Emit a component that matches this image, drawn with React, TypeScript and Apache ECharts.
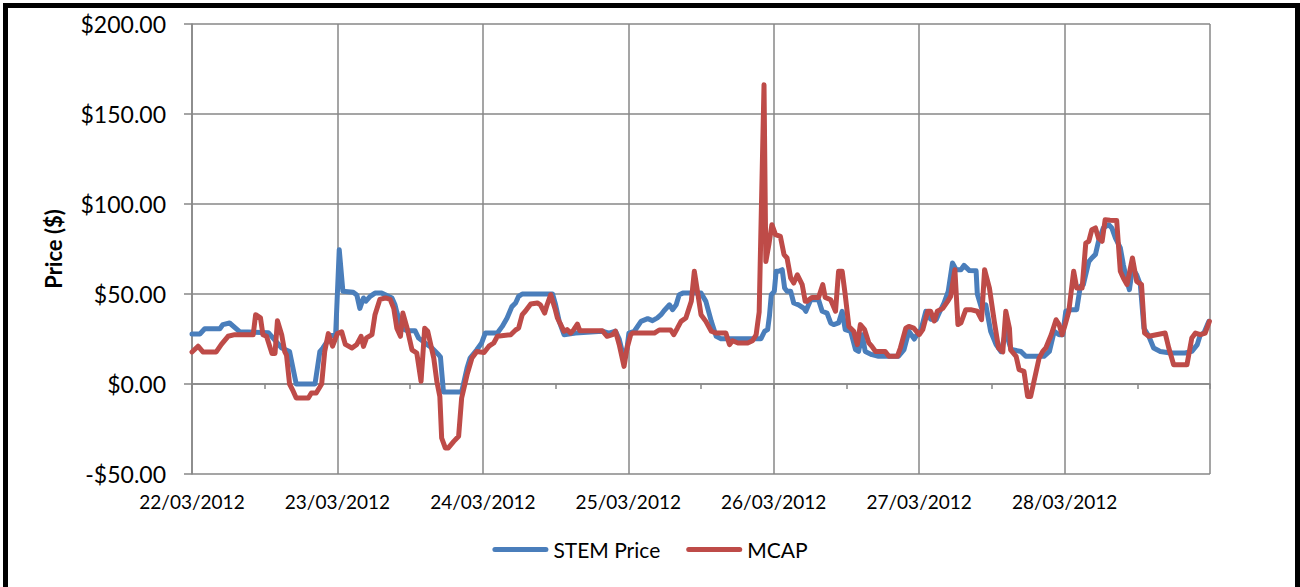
import React, { useEffect, useRef } from "react";
import * as echarts from "echarts";

const dateLabels = ["22/03/2012", "23/03/2012", "24/03/2012", "25/03/2012", "26/03/2012", "27/03/2012", "28/03/2012"];
const yTicks = [-50, 0, 50, 100, 150, 200];

// [hours since 22/03/2012 00:00, price $]
const stemPrice: [number, number][] = [
  [0, 27.8], [1.3, 27.8], [2.1, 30.7], [4.6, 30.7], [5.1, 33], [6.2, 33.9], [7.9, 29], [12.6, 28.5], [14.8, 20], [16.1, 18], [17.2, 0], [20.3, 0], [21.1, 18], [21.6, 20], [23.0, 27], [23.7, 27], [24.3, 74.6], [24.9, 51.5], [26.6, 51], [27.2, 49.5], [27.7, 42], [28.3, 47.8], [28.7, 46], [29.4, 48.7], [30.2, 50.5], [31.3, 50.5], [31.9, 49.6], [33.0, 47.8], [33.5, 44], [33.8, 40], [34.6, 31], [35.5, 29.6], [36.8, 29.6], [37.4, 25.5], [38.8, 22], [39.6, 20], [40.7, 16.3], [41.0, 15], [41.5, -4.5], [44.5, -4.5], [45.4, 9], [45.9, 14.4], [47.0, 19], [47.8, 22.8],
  [48.4, 28.3], [50.4, 28.3], [51.2, 32], [52.0, 36.7], [52.8, 43], [53.4, 45], [53.9, 48.7], [54.5, 50], [59.5, 50], [60.0, 44], [60.6, 34.8], [61.4, 27.4], [63.3, 28.3], [67.7, 29.3], [68.8, 28.3], [69.9, 29.3], [70.5, 25], [71.0, 18], [71.3, 15], [71.8, 20], [72.1, 28.3], [73.0, 29.3], [74.1, 34.8], [75.2, 36.3], [76.0, 35.2], [76.8, 36.7], [77.4, 38.5], [77.9, 40.7], [78.8, 44], [79.3, 41.3], [79.9, 44], [80.4, 49.6], [81.0, 50.5], [84.0, 50.5], [84.8, 45.9], [85.7, 34.8], [86.5, 26.5], [87.3, 25.2], [93.9, 25.2], [94.5, 29.3], [95.0, 30.2], [95.3, 38], [95.6, 49.6],
  [96.1, 51.5], [96.4, 62.6], [96.8, 62.6], [97.4, 63.5], [97.8, 53.3], [98.2, 51.5], [98.8, 51.5], [99.3, 45], [100.1, 44], [101.0, 42], [101.3, 40.4], [102.1, 46.8], [103.4, 46.8], [104.0, 40.4], [104.8, 39.4], [105.4, 33.9], [105.9, 33], [106.7, 33.9], [107.3, 40.4], [107.8, 30.2], [108.7, 29.3], [109.5, 19.1], [110.0, 18.1], [110.6, 27.4], [111.1, 18.1], [112.2, 16.3], [113.3, 15.4], [116.6, 15.4], [117.5, 19.1], [118.3, 29.3], [119.2, 25], [120.0, 29.3],
  [120.3, 30], [121.1, 40.4], [121.9, 36], [122.8, 35.7], [123.3, 39.4], [124.1, 45], [124.8, 51.5], [125.5, 67.2], [126.1, 63.5], [126.9, 63.5], [127.4, 65.9], [128.3, 63], [129.4, 62.9], [129.6, 50], [130.3, 42], [131.0, 44], [131.8, 29.3], [132.7, 21.9], [133.5, 18], [134.3, 29], [135.1, 20], [135.4, 19], [136.8, 18.1], [137.6, 15.4], [140.6, 15.4], [141.5, 18.1], [142.3, 29.3], [143.1, 27.4], [143.7, 27.4],
  [144.2, 40.4], [145.2, 41.3], [146.0, 41.3], [146.6, 54.3], [147.1, 55.2], [148.0, 68], [148.5, 70], [149.1, 72], [149.6, 79.3], [150.4, 86.7], [151.3, 88.5], [151.8, 86.7], [152.4, 81], [153.2, 75.6], [153.7, 66.3], [154.3, 57], [154.7, 52.4], [155.2, 64.4], [155.9, 60.7], [156.5, 55.2], [157.1, 31], [157.9, 26.5], [158.7, 20], [159.8, 18.1], [161.5, 17.2], [163.9, 17.2], [165.0, 18.1], [165.9, 21.9], [166.4, 27.4], [167.0, 28.3], [167.8, 34.8],
];

const mcap: [number, number][] = [
  [0, 17.8], [1.0, 21], [1.8, 17.8], [4.0, 17.8], [4.85, 22], [5.95, 26.5], [7.05, 27.4], [10.1, 27.4], [10.5, 38.5], [11.3, 36.7], [11.7, 27.4], [12.3, 26.5], [13.2, 17], [13.7, 17], [14.1, 35.2], [14.8, 27.4], [15.3, 18], [15.6, 16], [16.1, 0], [16.7, -4], [17.2, -7.8], [19.2, -7.8], [19.7, -5], [20.5, -5], [21.4, 0], [21.9, 18], [22.5, 28], [23.2, 21],
  [24.0, 28], [24.7, 29], [25.3, 22], [26.4, 20], [27.2, 22], [27.9, 26.5], [28.3, 20.9], [28.8, 25.6], [29.7, 27.4], [30.2, 38.5], [31.0, 47], [31.9, 47.8], [32.7, 47], [33.3, 42], [33.8, 31], [34.4, 26.5], [34.8, 39.4], [35.5, 31], [36.3, 19], [37.1, 17.2], [37.8, 1.5], [38.4, 31], [38.9, 29.3], [39.9, 14.4], [40.4, 1.5], [40.9, -6.9], [41.2, -30], [41.8, -35.5], [42.3, -35.5], [43.2, -31.9], [44.0, -29], [44.5, -7.8], [45.4, 5.2], [46.2, 14.4], [47.0, 18.1],
  [48.2, 17.5], [49.0, 21], [49.8, 22.8], [50.4, 26.5], [52.6, 27.4], [53.4, 30], [53.9, 31], [54.5, 38.5], [55.0, 40.4], [55.9, 44.4], [57.0, 45], [57.5, 44], [58.2, 39.4], [58.6, 44], [59.2, 49.6], [59.9, 42], [60.3, 36.7], [61.4, 29.3], [61.9, 30.2], [62.5, 28.3], [63.0, 30.2], [63.6, 33.3], [64.0, 29.6], [67.7, 29.6], [68.5, 26.5], [69.4, 27.4], [69.9, 29.3], [70.5, 21.9], [71.3, 9.8], [71.8, 20],
  [72.4, 27.4], [72.7, 28.3], [76.3, 28.3], [77.1, 30], [79.0, 30], [79.5, 27.4], [80.1, 31], [80.7, 34.8], [81.5, 36.7], [82.4, 46], [82.9, 62.6], [83.5, 49.6], [84.0, 38.5], [84.8, 34.8], [85.7, 29.3], [86.5, 28.3], [88.1, 28.3], [88.7, 21.9], [89.2, 24], [90.1, 22.8], [91.7, 22.8], [92.5, 24], [93.1, 27.4], [93.6, 40], [94.4, 166.3], [94.7, 68], [95.2, 77.4], [95.7, 88.5],
  [96.3, 83], [97.1, 82], [97.7, 71.9], [98.2, 70], [98.8, 58.9], [99.3, 56.1], [99.9, 60.7], [100.7, 55.2], [101.2, 46], [101.5, 46], [102.3, 48.1], [103.4, 48.1], [104.1, 55.2], [104.5, 48.1], [105.4, 46.8], [106.2, 40.4], [106.7, 62.6], [107.3, 62.6], [107.8, 49.6], [108.4, 32], [109.2, 29.3], [109.8, 21.9], [110.3, 33], [111.0, 30.2], [111.7, 22.8], [112.2, 20.9], [112.8, 18.1], [114.4, 18.1], [115.0, 15.4], [116.4, 15.4], [116.9, 20], [117.8, 31], [118.3, 32], [119.1, 31], [120.0, 27.4],
  [120.6, 30.2], [121.4, 40.4], [121.9, 40.4], [122.5, 35], [123.0, 40.4], [123.9, 42], [124.7, 45.9], [125.2, 48.7], [125.9, 63.5], [126.4, 33], [126.9, 34], [127.7, 41.3], [128.5, 41.3], [129.6, 40.4], [130.3, 35.7], [130.8, 63.5], [131.6, 53.3], [132.4, 34.8], [133.1, 20], [133.8, 17.8], [134.3, 40.4], [134.9, 31], [135.1, 19], [136.0, 15.4], [136.5, 8], [137.3, 7], [137.9, -6.9], [138.4, -6.9], [139.8, 14.4], [140.4, 18.1], [140.9, 20], [141.8, 27.4], [142.6, 35.7], [143.1, 33], [143.6, 27.4],
  [144.1, 33], [144.7, 40.4], [145.5, 62.6], [146.0, 53.3], [146.9, 53.3], [147.5, 78.3], [148.0, 79.3], [148.5, 85.7], [149.1, 86.7], [149.6, 81], [150.2, 79.3], [150.7, 91.3], [151.5, 91], [152.6, 90.9], [153.2, 62.6], [153.7, 58.9], [154.3, 55.2], [155.2, 70], [155.9, 57], [156.7, 55.2], [157.2, 28.3], [157.9, 26.5], [160.6, 28.3], [161.2, 20], [162.0, 10.7], [164.2, 10.7], [165.0, 25.6], [165.6, 28.3], [166.4, 27.4], [167.2, 28.3], [167.9, 34.8],
];

const FONT = "Lato, 'Liberation Sans', sans-serif";
const GRID = "#878787";
const LEGEND_ICON = "path://M2.5,0 L53.5,0 A2.5,2.5 0 0 1 53.5,5 L2.5,5 A2.5,2.5 0 0 1 2.5,0 Z";

export default function App() {
  const ref = useRef<HTMLDivElement>(null);
  useEffect(() => {
    if (!ref.current) return;
    const chart = echarts.init(ref.current, null, { renderer: "svg" });
    const fmt = (v: number) => (v < 0 ? "-$" : "$") + Math.abs(v).toFixed(2);
    chart.setOption({
      animation: false,
      backgroundColor: "#ffffff",
      textStyle: { fontFamily: FONT },
      grid: { left: 192, right: 90, top: 24, bottom: 113, containLabel: false },
      legend: {
        bottom: 22,
        left: "center",
        icon: LEGEND_ICON,
        itemWidth: 56,
        itemHeight: 5,
        itemGap: 26,
        textStyle: { fontFamily: FONT, fontSize: 21, color: "#000" },
        data: ["STEM Price", "MCAP"],
      },
      xAxis: [
        {
          type: "value",
          min: 0,
          max: 168,
          interval: 24,
          position: "bottom",
          axisLine: { show: false, onZero: false },
          axisTick: { show: false },
          splitLine: { show: true, lineStyle: { color: GRID, width: 1.5 } },
          axisLabel: {
            show: true,
            showMinLabel: true,
            showMaxLabel: true,
            margin: 18,
            fontFamily: FONT,
            fontSize: 19,
            color: "#000",
            formatter: (v: number) => dateLabels[Math.round(v / 24)] ?? "",
          },
        },
        {
          type: "value",
          min: 0,
          max: 168,
          interval: 12,
          position: "bottom",
          axisLine: { show: true, onZero: true, onZeroAxisIndex: 0, lineStyle: { color: GRID, width: 1.5 } },
          axisTick: { show: true, length: 5, lineStyle: { color: GRID, width: 1.5 } },
          axisLabel: { show: false },
          splitLine: { show: false },
        },
      ],
      yAxis: {
        type: "value",
        min: -50,
        max: 200,
        interval: 50,
        name: "Price ($)",
        nameLocation: "middle",
        nameGap: 128,
        nameRotate: 90,
        nameTextStyle: { fontFamily: FONT, fontSize: 22, fontWeight: "bold", color: "#000" },
        axisLine: { show: true, lineStyle: { color: GRID, width: 1.5 } },
        axisTick: { show: true, length: 8, lineStyle: { color: GRID, width: 1.5 } },
        splitLine: { show: true, lineStyle: { color: GRID, width: 1.5 } },
        axisLabel: {
          margin: 26,
          fontFamily: FONT,
          fontSize: 23,
          color: "#000",
          formatter: (v: number) => (yTicks.includes(v) ? fmt(v) : ""),
        },
      },
      series: [
        {
          name: "STEM Price",
          type: "line",
          xAxisIndex: 0,
          data: stemPrice,
          showSymbol: false,
          symbol: "none",
          color: "#4A7EBB",
          lineStyle: { color: "#4A7EBB", width: 5, join: "round", cap: "round" },
        },
        {
          name: "MCAP",
          type: "line",
          xAxisIndex: 0,
          data: mcap,
          showSymbol: false,
          symbol: "none",
          color: "#BE4B48",
          lineStyle: { color: "#BE4B48", width: 5, join: "round", cap: "round" },
        },
      ],
    });
    return () => chart.dispose();
  }, []);

  return (
    <div style={{ position: "absolute", left: 0, top: 0, width: 1300, height: 587, overflow: "hidden", background: "#fff" }}>
      <div ref={ref} style={{ position: "absolute", left: 0, top: 0, width: 1300, height: 587 }} />
      <div
        style={{
          position: "absolute",
          left: 3,
          top: 3,
          width: 1297,
          height: 600,
          boxSizing: "border-box",
          border: "5px solid #000",
          pointerEvents: "none",
        }}
      />
    </div>
  );
}
